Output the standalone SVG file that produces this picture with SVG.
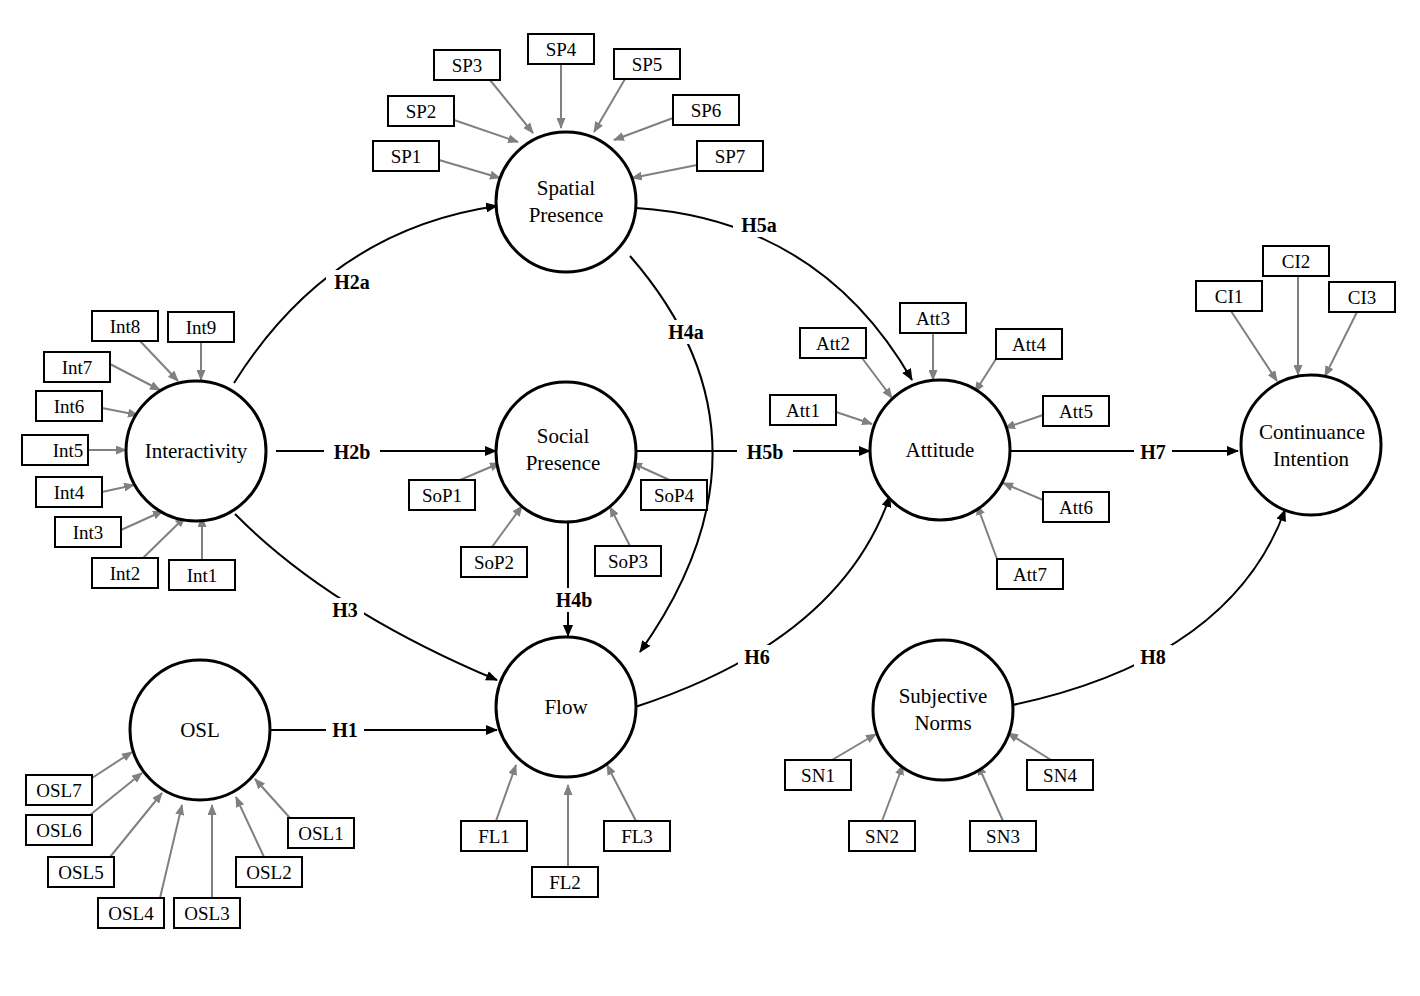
<svg xmlns="http://www.w3.org/2000/svg" width="1420" height="996" viewBox="0 0 1420 996">
<defs>
<marker id="ga" markerWidth="11" markerHeight="9" refX="10" refY="4.5" orient="auto" markerUnits="userSpaceOnUse"><path d="M0,0 L11,4.5 L0,9 Z" fill="#808080"/></marker>
<marker id="ba" markerWidth="12" markerHeight="10" refX="11" refY="5" orient="auto" markerUnits="userSpaceOnUse"><path d="M0,0 L12,5 L0,10 Z" fill="#000"/></marker>
</defs>
<style>
text{font-family:"Liberation Serif","Times New Roman",serif;fill:#000;text-anchor:middle;dominant-baseline:central}
.c{fill:#fff;stroke:#000;stroke-width:3}
.b{fill:#fff;stroke:#000;stroke-width:2}
.n{font-size:21px}
.i{font-size:19px}
.g{stroke:#808080;stroke-width:2;fill:none;marker-end:url(#ga)}
.k{stroke:#000;stroke-width:2;fill:none;marker-end:url(#ba)}
.l{font-size:20px;font-weight:bold}
.w{fill:#fff}
</style>
<rect width="1420" height="996" fill="#fff"/>
<g id="connectors">
<path class="k" d="M234,383 Q330,230 497,206"/>
<path class="k" d="M276,451 L496,451"/>
<path class="k" d="M235,514 Q330,610 497,680"/>
<path class="k" d="M266,730 L497,730"/>
<path class="k" d="M568,521 L568,636"/>
<path class="k" d="M630,256 Q790,440 640,652"/>
<path class="k" d="M636,208 Q820,220 912,380"/>
<path class="k" d="M636,451 L870,451"/>
<path class="k" d="M635,707 Q840,640 890,496"/>
<path class="k" d="M1008,451 L1238,451"/>
<path class="k" d="M1008,706 Q1230,660 1285,510"/>
<g>
<rect class="w" x="326" y="270" width="52" height="24"/><text class="l" x="352" y="282">H2a</text>
<rect class="w" x="324" y="440" width="56" height="24"/><text class="l" x="352" y="452">H2b</text>
<rect class="w" x="326" y="598" width="38" height="24"/><text class="l" x="345" y="610">H3</text>
<rect class="w" x="326" y="718" width="38" height="24"/><text class="l" x="345" y="730">H1</text>
<rect class="w" x="548" y="588" width="52" height="24"/><text class="l" x="574" y="600">H4b</text>
<rect class="w" x="660" y="320" width="52" height="24"/><text class="l" x="686" y="332">H4a</text>
<rect class="w" x="733" y="213" width="52" height="24"/><text class="l" x="759" y="225">H5a</text>
<rect class="w" x="737" y="440" width="56" height="24"/><text class="l" x="765" y="452">H5b</text>
<rect class="w" x="738" y="645" width="38" height="24"/><text class="l" x="757" y="657">H6</text>
<rect class="w" x="1134" y="440" width="38" height="24"/><text class="l" x="1153" y="452">H7</text>
<rect class="w" x="1134" y="645" width="38" height="24"/><text class="l" x="1153" y="657">H8</text>
</g>
<path class="g" d="M490,80 L533,133"/><path class="g" d="M561,64 L561,128"/><path class="g" d="M625,79 L594,132"/>
<path class="g" d="M454,120 L518,142"/><path class="g" d="M673,118 L614,140"/><path class="g" d="M439,160 L500,178"/><path class="g" d="M697,165 L632,178"/>
<path class="g" d="M140,341 L178,381"/><path class="g" d="M201,342 L201,380"/><path class="g" d="M110,364 L160,390"/><path class="g" d="M102,408 L138,415"/><path class="g" d="M88,450 L126,450"/><path class="g" d="M102,492 L134,485"/><path class="g" d="M121,530 L163,511"/><path class="g" d="M143,558 L185,517"/><path class="g" d="M202,560 L202,517"/>
<path class="g" d="M460,480 L500,463"/><path class="g" d="M492,547 L522,506"/><path class="g" d="M630,546 L610,507"/><path class="g" d="M674,482 L632,463"/>
<path class="g" d="M496,821 L516,765"/><path class="g" d="M568,867 L568,785"/><path class="g" d="M636,821 L607,765"/>
<path class="g" d="M92,778 L132,752"/><path class="g" d="M90,815 L142,773"/><path class="g" d="M110,857 L162,793"/><path class="g" d="M160,898 L182,805"/><path class="g" d="M212,898 L212,805"/><path class="g" d="M264,857 L236,797"/><path class="g" d="M290,818 L255,779"/>
<path class="g" d="M933,333 L933,380"/><path class="g" d="M862,358 L892,398"/><path class="g" d="M996,359 L975,392"/><path class="g" d="M836,412 L872,424"/><path class="g" d="M1043,415 L1005,428"/><path class="g" d="M1043,500 L1003,483"/><path class="g" d="M997,559 L977,505"/>
<path class="g" d="M1298,276 L1298,375"/><path class="g" d="M1231,311 L1277,381"/><path class="g" d="M1357,312 L1325,376"/>
<path class="g" d="M832,760 L876,734"/><path class="g" d="M882,821 L903,765"/><path class="g" d="M1003,821 L978,765"/><path class="g" d="M1051,760 L1008,733"/>
</g>
<g id="n-sp"><circle class="c" cx="566" cy="202" r="70"/><text class="n" x="566" y="188">Spatial</text><text class="n" x="566" y="215">Presence</text></g>
<g id="n-int"><circle class="c" cx="196" cy="451" r="70"/><text class="n" x="196" y="451">Interactivity</text></g>
<g id="n-sop"><circle class="c" cx="566" cy="452" r="70"/><text class="n" x="563" y="436">Social</text><text class="n" x="563" y="463">Presence</text></g>
<g id="n-flow"><circle class="c" cx="566" cy="707" r="70"/><text class="n" x="566" y="707">Flow</text></g>
<g id="n-osl"><circle class="c" cx="200" cy="730" r="70"/><text class="n" x="200" y="730">OSL</text></g>
<g id="n-att"><circle class="c" cx="940" cy="450" r="70"/><text class="n" x="940" y="450">Attitude</text></g>
<g id="n-ci"><circle class="c" cx="1311" cy="445" r="70"/><text class="n" x="1312" y="432">Continuance</text><text class="n" x="1311" y="459">Intention</text></g>
<g id="n-sn"><circle class="c" cx="943" cy="710" r="70"/><text class="n" x="943" y="696">Subjective</text><text class="n" x="943" y="723">Norms</text></g>
<g id="items">
<g id="SP3"><rect class="b" x="434" y="50" width="66" height="30"/><text class="i" x="467" y="65">SP3</text></g>
<g id="SP4"><rect class="b" x="528" y="34" width="66" height="30"/><text class="i" x="561" y="49">SP4</text></g>
<g id="SP5"><rect class="b" x="614" y="49" width="66" height="30"/><text class="i" x="647" y="64">SP5</text></g>
<g id="SP2"><rect class="b" x="388" y="96" width="66" height="30"/><text class="i" x="421" y="111">SP2</text></g>
<g id="SP6"><rect class="b" x="673" y="95" width="66" height="30"/><text class="i" x="706" y="110">SP6</text></g>
<g id="SP1"><rect class="b" x="373" y="141" width="66" height="30"/><text class="i" x="406" y="156">SP1</text></g>
<g id="SP7"><rect class="b" x="697" y="141" width="66" height="30"/><text class="i" x="730" y="156">SP7</text></g>
<g id="Int8"><rect class="b" x="92" y="311" width="66" height="30"/><text class="i" x="125" y="326">Int8</text></g>
<g id="Int9"><rect class="b" x="168" y="312" width="66" height="30"/><text class="i" x="201" y="327">Int9</text></g>
<g id="Int7"><rect class="b" x="44" y="352" width="66" height="30"/><text class="i" x="77" y="367">Int7</text></g>
<g id="Int6"><rect class="b" x="36" y="391" width="66" height="30"/><text class="i" x="69" y="406">Int6</text></g>
<g id="Int5"><rect class="b" x="22" y="435" width="66" height="30"/><text class="i" x="68" y="450">Int5</text></g>
<g id="Int4"><rect class="b" x="36" y="477" width="66" height="30"/><text class="i" x="69" y="492">Int4</text></g>
<g id="Int3"><rect class="b" x="55" y="517" width="66" height="30"/><text class="i" x="88" y="532">Int3</text></g>
<g id="Int2"><rect class="b" x="92" y="558" width="66" height="30"/><text class="i" x="125" y="573">Int2</text></g>
<g id="Int1"><rect class="b" x="169" y="560" width="66" height="30"/><text class="i" x="202" y="575">Int1</text></g>
<g id="SoP1"><rect class="b" x="409" y="480" width="66" height="30"/><text class="i" x="442" y="495">SoP1</text></g>
<g id="SoP2"><rect class="b" x="461" y="547" width="66" height="30"/><text class="i" x="494" y="562">SoP2</text></g>
<g id="SoP3"><rect class="b" x="595" y="546" width="66" height="30"/><text class="i" x="628" y="561">SoP3</text></g>
<g id="SoP4"><rect class="b" x="641" y="480" width="66" height="30"/><text class="i" x="674" y="495">SoP4</text></g>
<g id="FL1"><rect class="b" x="461" y="821" width="66" height="30"/><text class="i" x="494" y="836">FL1</text></g>
<g id="FL2"><rect class="b" x="532" y="867" width="66" height="30"/><text class="i" x="565" y="882">FL2</text></g>
<g id="FL3"><rect class="b" x="604" y="821" width="66" height="30"/><text class="i" x="637" y="836">FL3</text></g>
<g id="OSL7"><rect class="b" x="26" y="775" width="66" height="30"/><text class="i" x="59" y="790">OSL7</text></g>
<g id="OSL6"><rect class="b" x="26" y="815" width="66" height="30"/><text class="i" x="59" y="830">OSL6</text></g>
<g id="OSL5"><rect class="b" x="48" y="857" width="66" height="30"/><text class="i" x="81" y="872">OSL5</text></g>
<g id="OSL4"><rect class="b" x="98" y="898" width="66" height="30"/><text class="i" x="131" y="913">OSL4</text></g>
<g id="OSL3"><rect class="b" x="174" y="898" width="66" height="30"/><text class="i" x="207" y="913">OSL3</text></g>
<g id="OSL2"><rect class="b" x="236" y="857" width="66" height="30"/><text class="i" x="269" y="872">OSL2</text></g>
<g id="OSL1"><rect class="b" x="288" y="818" width="66" height="30"/><text class="i" x="321" y="833">OSL1</text></g>
<g id="Att3"><rect class="b" x="900" y="303" width="66" height="30"/><text class="i" x="933" y="318">Att3</text></g>
<g id="Att2"><rect class="b" x="800" y="328" width="66" height="30"/><text class="i" x="833" y="343">Att2</text></g>
<g id="Att4"><rect class="b" x="996" y="329" width="66" height="30"/><text class="i" x="1029" y="344">Att4</text></g>
<g id="Att1"><rect class="b" x="770" y="395" width="66" height="30"/><text class="i" x="803" y="410">Att1</text></g>
<g id="Att5"><rect class="b" x="1043" y="396" width="66" height="30"/><text class="i" x="1076" y="411">Att5</text></g>
<g id="Att6"><rect class="b" x="1043" y="492" width="66" height="30"/><text class="i" x="1076" y="507">Att6</text></g>
<g id="Att7"><rect class="b" x="997" y="559" width="66" height="30"/><text class="i" x="1030" y="574">Att7</text></g>
<g id="CI2"><rect class="b" x="1263" y="246" width="66" height="30"/><text class="i" x="1296" y="261">CI2</text></g>
<g id="CI1"><rect class="b" x="1196" y="281" width="66" height="30"/><text class="i" x="1229" y="296">CI1</text></g>
<g id="CI3"><rect class="b" x="1329" y="282" width="66" height="30"/><text class="i" x="1362" y="297">CI3</text></g>
<g id="SN1"><rect class="b" x="785" y="760" width="66" height="30"/><text class="i" x="818" y="775">SN1</text></g>
<g id="SN2"><rect class="b" x="849" y="821" width="66" height="30"/><text class="i" x="882" y="836">SN2</text></g>
<g id="SN3"><rect class="b" x="970" y="821" width="66" height="30"/><text class="i" x="1003" y="836">SN3</text></g>
<g id="SN4"><rect class="b" x="1027" y="760" width="66" height="30"/><text class="i" x="1060" y="775">SN4</text></g>
</g>
</svg>
